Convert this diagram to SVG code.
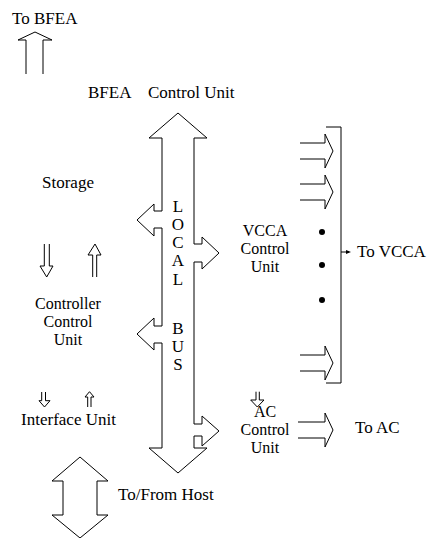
<svg xmlns="http://www.w3.org/2000/svg" width="433" height="538" viewBox="0 0 433 538" font-family="'Liberation Serif', 'Times New Roman', serif">
<style>
text{font-family:'Liberation Serif','Times New Roman',serif;font-size:17px;fill:#000}
.m{font-size:16px}
.c{text-anchor:middle}
.s{fill:none;stroke:#000;stroke-width:1}
</style>
<rect width="433" height="538" fill="#fff"/>
<g id="connectors">
<path class="s" d="M26,74 V40 H18 L35,32 L52,40 H43 V74"/>
<path class="s" d="M178,113 L207,138 H194 V244 H202 V237 L219,253 L202,269 V262 H194 V424 H202 V416 L219,431 L202,446 V436 H194 V448 H207 L178,473 L149,448 H162 V343 H154 V350 L137,334 L154,318 V326 H162 V228 H154 V236 L137,220 L154,204 V211 H162 V138 H149 Z"/>
<path class="s" d="M44.3,244 V266 H40 L46.7,277 L53,266 H49.3 V244"/>
<path class="s" d="M92.7,277 V255 H88 L95,244 L101,255 H96.7 V277"/>
<path class="s" d="M41.7,392 V400.7 H39 L44.5,407 L50,400.7 H45.5 V392"/>
<path class="s" d="M87.7,407 V397 H85 L89.5,391.7 L94,397 H91 V407"/>
<path class="s" d="M256,391.7 V400 H250.7 L257.3,407 L264,400 H259.3 V391.7"/>
<path class="s" d="M80,457 L108,481 H97 V515 H108 L80,538 L52,515 H63 V481 H52 Z"/>
<path class="s" d="M300,143 H325 V134 L333,151 L325,168 V159 H300"/>
<path class="s" d="M300,184 H325 V175 L333,192 L325,209 V200 H300"/>
<path class="s" d="M300,355 H325 V346 L333,363 L325,380 V371 H300"/>
<path class="s" d="M326,127 H341 V383 H326"/>
<path class="s" d="M341,252 H349"/>
<path d="M351,252 L346,250 L346,254 Z" fill="#000"/>
<path class="s" d="M298,422 H325 V413 L333,430 L325,447 V438 H298"/>
<circle cx="322" cy="232" r="3"/>
<circle cx="322" cy="265" r="3"/>
<circle cx="322" cy="300" r="3"/>
</g>
<g id="to-bfea"><text x="12" y="24">To BFEA</text></g>
<g id="bfea-control-unit"><text x="88" y="98">BFEA</text><text x="148" y="98">Control Unit</text></g>
<g id="storage"><text class="c" x="68" y="188">Storage</text></g>
<g id="controller-control-unit"><text class="c m" x="68" y="309">Controller</text><text class="c m" x="68" y="327">Control</text><text class="c m" x="68" y="345">Unit</text></g>
<g id="interface-unit"><text class="c" x="68.5" y="425">Interface Unit</text></g>
<g id="host"><text x="118" y="500">To/From Host</text></g>
<g id="local-bus"><text class="c" x="178" y="212">L</text><text class="c" x="178" y="230">O</text><text class="c" x="178" y="248">C</text><text class="c" x="178" y="266">A</text><text class="c" x="178" y="285">L</text><text class="c" x="178" y="334">B</text><text class="c" x="178" y="352">U</text><text class="c" x="178" y="370">S</text></g>
<g id="vcca-control-unit"><text class="c m" x="265" y="236">VCCA</text><text class="c m" x="265" y="254">Control</text><text class="c m" x="265" y="272">Unit</text></g>
<g id="to-vcca"><text x="357" y="257">To VCCA</text></g>
<g id="ac-control-unit"><text class="c m" x="265" y="417">AC</text><text class="c m" x="265" y="435">Control</text><text class="c m" x="265" y="453">Unit</text></g>
<g id="to-ac"><text x="355" y="433">To AC</text></g>
</svg>
